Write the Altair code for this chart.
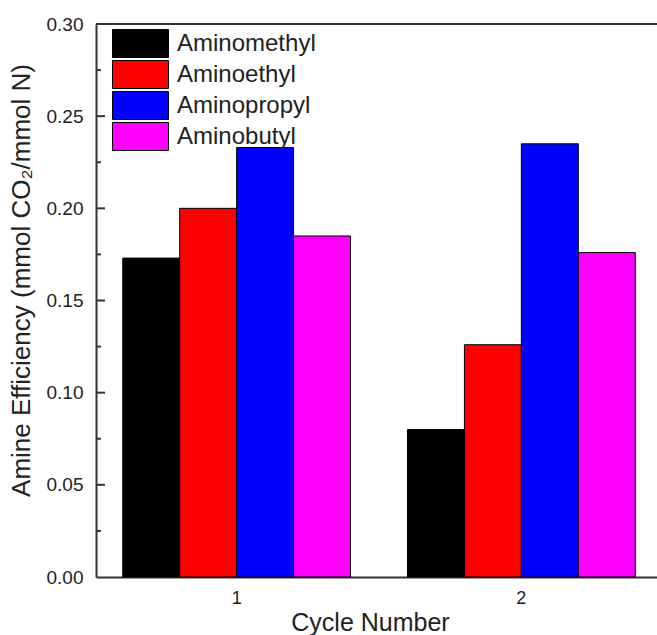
import altair as alt
import pandas as pd

# Amine efficiency per adsorption cycle for each aminoalkyl chain length
cycles = ["1", "2"]
series = ["Aminomethyl", "Aminoethyl", "Aminopropyl", "Aminobutyl"]
cycle1_eff = [0.173, 0.200, 0.233, 0.185]
cycle2_eff = [0.080, 0.126, 0.235, 0.176]
colors = ["#000000", "#ff0000", "#0000ff", "#ff00ff"]

y_ticks = [0.00, 0.05, 0.10, 0.15, 0.20, 0.25, 0.30]
major_inner = [0.05, 0.10, 0.15, 0.20, 0.25]
minor_inner = [0.025, 0.075, 0.125, 0.175, 0.225, 0.275]

rows = []
for cyc, vals in zip(cycles, [cycle1_eff, cycle2_eff]):
    for s, v in zip(series, vals):
        rows.append({"cycle": cyc, "series": s, "eff": v})
bars_df = pd.DataFrame(rows)

FONT = "Liberation Sans"
W, H = 561, 553

y_axis = alt.Axis(
    title="Amine Efficiency (mmol CO₂/mmol N)",
    values=y_ticks,
    format=".2f",
    labelFontSize=19,
    labelPadding=13,
    labelColor="#222",
    ticks=False,
    grid=False,
    domainColor="#333",
    domainWidth=2,
    titleFontSize=26,
    titleFontWeight="normal",
    titleColor="#222",
    titleAngle=270,
    titleAlign="center",
    titleBaseline="middle",
    titleX=-75,
    titleY=256,
)
y_scale = alt.Scale(domain=[0, 0.3], nice=False)

bars = alt.Chart(bars_df).mark_bar(stroke="black", strokeWidth=1).encode(
    x=alt.X(
        "cycle:N",
        sort=cycles,
        scale=alt.Scale(range=[0, 566], paddingInner=0.2, paddingOuter=0.094),
        axis=alt.Axis(
            title="Cycle Number",
            labelAngle=0,
            labelFontSize=18,
            labelPadding=12,
            labelColor="#222",
            ticks=False,
            domainColor="#333",
            domainWidth=2,
            titleFontSize=25,
            titleFontWeight="normal",
            titleColor="#222",
            titleX=274,
            titleY=53,
            titleBaseline="alphabetic",
        ),
    ),
    xOffset=alt.XOffset("series:N", sort=series,
                        scale=alt.Scale(paddingInner=0, paddingOuter=0)),
    y=alt.Y("eff:Q", scale=y_scale, axis=y_axis),
    color=alt.Color(
        "series:N",
        sort=series,
        scale=alt.Scale(domain=series, range=colors),
        legend=alt.Legend(
            title=None,
            orient="none",
            legendX=30,
            legendY=5,
            padding=0,
            symbolType="M-2,-1H2V1H-2Z",
            symbolSize=784,
            symbolStrokeColor="black",
            symbolStrokeWidth=1,
            symbolOpacity=1,
            labelFontSize=24,
            labelColor="#222",
            labelOffset=22,
            labelLimit=300,
            rowPadding=-2,
        ),
    ),
)

# inward-pointing y ticks along the left axis
major = alt.Chart(pd.DataFrame({"eff": major_inner})).mark_rule(
    color="#333", strokeWidth=2
).encode(y=alt.Y("eff:Q", scale=y_scale, axis=y_axis), x=alt.value(0), x2=alt.value(9))

minor = alt.Chart(pd.DataFrame({"eff": minor_inner})).mark_rule(
    color="#333", strokeWidth=2
).encode(y=alt.Y("eff:Q", scale=y_scale, axis=y_axis), x=alt.value(0), x2=alt.value(5))

# top frame line
top_line = alt.Chart().mark_rule(color="#333", strokeWidth=2).encode(
    y=alt.datum(0.3), x=alt.value(0), x2=alt.value(W)
)

chart = (
    alt.layer(bars, major, minor, top_line)
    .properties(
        width=W,
        height=H,
        autosize=alt.AutoSizeParams(type="none"),
        padding={"left": 96, "top": 24, "right": 0, "bottom": 58},
    )
    .configure(font=FONT, background="white")
    .configure_view(stroke=None)
)

chart.save("out.html", embed_options={"renderer": "svg", "actions": False})
